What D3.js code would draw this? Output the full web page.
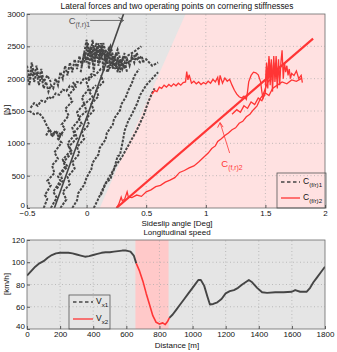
<!DOCTYPE html>
<html>
<head>
<meta charset="utf-8">
<script src="https://cdnjs.cloudflare.com/ajax/libs/d3/7.8.5/d3.min.js"></script>
<style>
body { margin: 0; background: #fff; }
text { font-family: "Liberation Sans", Arial, sans-serif; }
</style>
</head>
<body>
<svg id="chart" width="337" height="352"></svg>
<script>
// ---- top plot data (sideslip angle [deg], lateral force [N]) ----
var sideslipTicks = [-0.5, 0, 0.5, 1, 1.5, 2];
var forceTicks = [0, 500, 1000, 1500, 2000, 2500, 3000];

// operating point regions: gray side ends on this line, pink beyond
var regionEdge = [[0.11, 0], [0.83, 3000]];

// straight cornering stiffness lines
var stiffness1 = [[-0.27, 0], [0.31, 3000]];
var stiffness2 = [[0.25, 0], [1.9, 2620]];

// measured traces, operating point 1 (dashed gray)
var op1Traces = [
  [[-0.5,2050],[-0.48,1900],[-0.46,2150],[-0.44,1950],[-0.42,2100],[-0.40,1900],[-0.38,2050],[-0.36,1850],[-0.34,1950],[-0.32,1800],[-0.30,1900],[-0.28,1850],[-0.26,2000],[-0.24,1900],[-0.22,2100],[-0.20,2000],[-0.18,2200],[-0.16,2050],[-0.14,2250],[-0.12,2100],[-0.10,2300],[-0.08,2150],[-0.06,2350],[-0.04,2200],[-0.02,2400],[0.0,2250],[0.02,2450],[0.04,2300],[0.06,2500],[0.08,2350],[0.10,2550],[0.12,2300],[0.14,2450],[0.16,2250],[0.18,2400],[0.20,2200],[0.22,2350],[0.24,2150],[0.26,2300],[0.28,2100],[0.30,2250],[0.32,2150],[0.34,2300],[0.36,2200],[0.38,2350],[0.40,2250],[0.42,2400],[0.44,2300],[0.46,2350],[0.48,2250]],
  [[-0.5,2200],[-0.48,2000],[-0.46,2250],[-0.44,2050],[-0.42,2200],[-0.40,2000],[-0.38,2150],[-0.36,1950],[-0.33,2050],[-0.30,1950]],
  [[-0.05,2100],[0.0,2600],[0.02,2150],[0.04,2500],[0.06,2100],[0.08,2450],[0.10,2200],[0.12,2550],[0.14,2150],[0.16,2450],[0.18,2100],[0.20,2400],[0.22,2150],[0.24,2350],[0.26,2100],[0.28,2300],[0.30,2150],[0.32,2250],[0.34,2100]],
  [[0.0,2300],[0.03,2450],[0.05,2250],[0.08,2550],[0.11,2350],[0.13,2500],[0.16,2300],[0.19,2500],[0.22,2250],[0.25,2400],[0.28,2200],[0.31,2350],[0.35,2250],[0.40,2350],[0.45,2250],[0.50,2300],[0.55,2200],[0.60,2250]],
  [[-0.02,2250],[0.01,2550],[0.03,2350],[0.05,2600],[0.07,2300],[0.09,2500],[0.11,2250],[0.14,2550],[0.17,2350],[0.20,2500],[0.23,2300],[0.26,2450],[0.29,2250],[0.32,2400]],
  [[-0.47,1550],[-0.44,1620],[-0.41,1580],[-0.38,1660],[-0.35,1640],[-0.32,1720],[-0.29,1690],[-0.26,1770],[-0.23,1750],[-0.20,1830],[-0.17,1810],[-0.14,1890],[-0.11,1870],[-0.08,1950],[-0.05,1930],[-0.02,2010],[0.01,1990],[0.04,2070],[0.07,2050],[0.12,2150],[0.17,2120],[0.22,2220],[0.28,2250],[0.34,2350],[0.40,2420],[0.46,2500]],
  [[-0.36,0],[-0.33,140],[-0.35,200],[-0.30,350],[-0.33,420],[-0.27,540],[-0.29,660],[-0.24,760],[-0.27,860],[-0.21,1010],[-0.24,1070],[-0.18,1230],[-0.21,1290],[-0.15,1430],[-0.18,1530],[-0.12,1650],[-0.15,1750],[-0.09,1870],[-0.12,1960]],
  [[-0.30,0],[-0.25,160],[-0.28,250],[-0.22,420],[-0.24,490],[-0.18,640],[-0.20,750],[-0.13,890],[-0.16,1000],[-0.10,1130],[-0.12,1240],[-0.06,1370],[-0.08,1480],[-0.02,1610],[-0.04,1710],[0.02,1840],[0.0,1940],[0.06,2070]],
  [[-0.25,300],[-0.20,420],[-0.22,520],[-0.16,640],[-0.19,720],[-0.12,860],[-0.15,950],[-0.08,1080],[-0.10,1180],[-0.04,1300],[-0.07,1390],[0.0,1500],[-0.02,1600],[0.05,1720],[0.02,1800],[0.08,1900]],
  [[-0.22,0],[-0.17,130],[-0.20,250],[-0.14,370],[-0.16,480],[-0.10,610],[-0.12,710],[-0.06,840],[-0.08,940],[-0.02,1070],[-0.04,1170],[0.02,1290],[0.0,1390],[0.06,1510],[0.04,1610],[0.10,1730],[0.08,1830],[0.14,1950],[0.12,2050]],
  [[-0.12,0],[-0.08,120],[-0.07,230],[-0.02,360],[0.0,470],[0.04,600],[0.05,700],[0.10,830],[0.11,930],[0.16,1060],[0.17,1160],[0.22,1290],[0.23,1380],[0.28,1510],[0.29,1600],[0.33,1720],[0.35,1820],[0.38,1930],[0.40,2040],[0.44,2150]],
  [[-0.48,1500],[-0.44,1450],[-0.40,1470],[-0.36,1380],[-0.33,1260],[-0.30,1180],[-0.27,1140],[-0.24,1170],[-0.20,1120]],
  [[-0.34,1120],[-0.31,1220],[-0.29,1100],[-0.26,1200],[-0.23,1080],[-0.20,1180]],
  [[0.06,0],[0.09,110],[0.12,230],[0.15,350],[0.18,450],[0.21,540],[0.24,640],[0.27,720],[0.30,800],[0.33,900],[0.36,1000],[0.39,1100],[0.42,1200],[0.45,1320],[0.48,1440],[0.50,1550],[0.52,1650],[0.55,1780],[0.57,1850]],
  [[0.12,200],[0.16,380],[0.20,450],[0.23,600],[0.26,800],[0.28,820],[0.30,1000],[0.32,1200],[0.35,1350],[0.38,1450],[0.42,1600],[0.45,1750],[0.50,1900],[0.55,2000],[0.60,2100]]
];

// measured traces, operating point 2 (solid red)
var op2Traces = [
  [[0.25,0],[0.27,60],[0.29,170],[0.30,110],[0.32,140],[0.34,250],[0.35,170],[0.38,160],[0.42,200],[0.46,180],[0.50,250],[0.54,280],[0.58,330],[0.62,350],[0.66,400],[0.70,430],[0.74,470],[0.78,550],[0.82,580],[0.86,620],[0.90,650],[0.94,710],[0.98,780],[1.02,850],[1.05,920],[1.08,960],[1.10,1030],[1.13,1070],[1.16,1120],[1.19,1160],[1.22,1210],[1.25,1240],[1.28,1310],[1.31,1340],[1.34,1410],[1.37,1450],[1.40,1520],[1.43,1580],[1.46,1700],[1.48,1750],[1.50,1850],[1.52,1950],[1.55,2000]],
  [[0.55,1760],[0.57,1820],[0.59,1800],[0.61,1870],[0.63,1850],[0.65,1900],[0.67,1870],[0.69,1910],[0.71,1880],[0.73,1920],[0.75,1890],[0.77,1930],[0.79,1900],[0.81,1940],[0.83,1950],[0.84,2110],[0.85,1980],[0.86,2060],[0.88,1930],[0.90,1960],[0.92,1920],[0.94,1950],[0.96,1910],[0.98,1940],[1.00,1920],[1.02,1960],[1.04,1930],[1.06,1990],[1.08,1950],[1.10,2020],[1.11,1900],[1.12,2050],[1.14,1930],[1.16,2010],[1.18,1960],[1.20,1990],[1.22,1900],[1.24,1820],[1.26,1760],[1.28,1720],[1.30,1700],[1.32,1730],[1.34,1680],[1.35,1800],[1.36,1950],[1.38,2050],[1.40,2100],[1.42,2090],[1.44,2060],[1.46,1950],[1.47,1800],[1.48,1700],[1.50,1800],[1.51,2200],[1.52,1850],[1.53,2300],[1.54,1900],[1.55,2250],[1.56,1800],[1.57,2350],[1.58,1950],[1.59,2200],[1.60,1850],[1.61,2300],[1.62,1900],[1.63,2250],[1.64,2440],[1.65,2000],[1.66,2250],[1.67,2100],[1.68,2200],[1.69,2050],[1.70,2150],[1.71,2000],[1.72,2080],[1.74,2050],[1.76,2120],[1.78,2000],[1.80,2050],[1.81,1940]],
  [[1.50,1900],[1.51,2250],[1.52,2000],[1.53,2350],[1.54,2050],[1.55,2300],[1.56,1950],[1.57,2250],[1.58,2050],[1.59,2350],[1.60,2000],[1.61,2200],[1.62,2050]],
  [[1.22,1450],[1.26,1520],[1.29,1480],[1.32,1580],[1.35,1540],[1.38,1640],[1.41,1600],[1.44,1700],[1.47,1660],[1.50,1780],[1.53,1740],[1.56,1850],[1.60,1900],[1.64,1950],[1.68,1920],[1.72,1980],[1.76,1960],[1.80,2000]]
];

// ---- bottom plot data (distance [m], speed [km/h]) ----
var distanceTicks = [0, 200, 400, 600, 800, 1000, 1200, 1400, 1600, 1800];
var speedTicks = [40, 60, 80, 100, 120];
var op2Range = [655, 855];
var distance1a = [0,25,50,75,100,125,150,175,200,225,250,275,300,325,350,375,400,425,450,475,500,525,550,575,600,625,645,660];
var speed1a = [88,92,96,99,101,104,106.5,108,108.5,108.5,108.5,108,107,106,105,105.5,106.5,107.5,108.5,109,109,109.5,110,110.5,110.5,109.5,106,99];
var distance2 = [660,680,700,720,740,760,780,800,820,835,850,860];
var speed2 = [99,92,83,72,62,52,46,44.5,45.5,44,47,50];
var distance1b = [860,880,900,925,950,975,1000,1020,1035,1050,1070,1090,1105,1125,1150,1175,1200,1225,1250,1275,1300,1320,1340,1360,1390,1420,1450,1500,1550,1600,1620,1650,1690,1710,1730,1750,1775,1800];
var speed1b = [50,53,57,62,67,72,77,81,84,84,79,69,62,62.5,64,67,72,74,75,77,80,82,84,82,77,73,72.5,73,73,73.5,75,73.5,73.5,77,82,86,91,96];
</script>
<script>
var svg = d3.select("#chart");
var gray = "#e5e5e5", pink = "#ffe1e1", red = "#ff3535", dark = "#454545";

function addGrid(g, x, y, xt, yt) {
  g.selectAll(".gx").data(xt).join("line")
    .attr("x1", d => x(d)).attr("x2", d => x(d))
    .attr("y1", y.range()[0]).attr("y2", y.range()[1])
    .attr("stroke", "#a8a8a8").attr("stroke-width", 0.7).attr("stroke-dasharray", "1,2.5");
  g.selectAll(".gy").data(yt).join("line")
    .attr("y1", d => y(d)).attr("y2", d => y(d))
    .attr("x1", x.range()[0]).attr("x2", x.range()[1])
    .attr("stroke", "#a8a8a8").attr("stroke-width", 0.7).attr("stroke-dasharray", "1,2.5");
}

function addAxes(g, x, y, xt, yt, xfmt, yfmt) {
  var gx = g.append("g").attr("transform", "translate(0," + y.range()[0] + ")")
    .call(d3.axisBottom(x).tickValues(xt).tickSize(-3).tickPadding(2).tickFormat(xfmt));
  var gy = g.append("g").attr("transform", "translate(" + x.range()[0] + ",0)")
    .call(d3.axisLeft(y).tickValues(yt).tickSize(-3).tickPadding(2).tickFormat(yfmt));
  [gx, gy].forEach(function (a) {
    a.select(".domain").remove();
    a.selectAll("line").attr("stroke", "#555");
    a.selectAll("text").attr("font-size", 8).attr("fill", "#111")
      .style("font-family", "'Liberation Sans', Arial, sans-serif");
  });
  // lift the lowest y label a little so it clears the first x label
  gy.selectAll(".tick text").filter(d => d === yt[0]).attr("dy", "-0.05em");
  g.append("rect")
    .attr("x", x.range()[0]).attr("y", y.range()[1])
    .attr("width", x.range()[1] - x.range()[0]).attr("height", y.range()[0] - y.range()[1])
    .attr("fill", "none").attr("stroke", "#6a6a6a").attr("stroke-width", 0.8);
}

function subText(g, x, y, main, sub, color, size) {
  var t = g.append("text").attr("x", x).attr("y", y).attr("fill", color).attr("font-size", size);
  t.append("tspan").text(main);
  t.append("tspan").attr("dy", 3).attr("font-size", size * 0.72).text(sub);
  return t;
}

// ================= top plot =================
var x1 = d3.scaleLinear().domain([-0.5, 2]).range([27, 325]);
var y1 = d3.scaleLinear().domain([0, 3000]).range([208, 14]);
var topG = svg.append("g");

topG.append("clipPath").attr("id", "clipTop").append("rect")
  .attr("x", 27).attr("y", 14).attr("width", 298).attr("height", 194);

var plotTop = topG.append("g").attr("clip-path", "url(#clipTop)");
plotTop.append("rect").attr("x", 27).attr("y", 14).attr("width", 298).attr("height", 194).attr("fill", pink);
plotTop.append("path")
  .attr("d", d3.line()([
    [x1(-0.5), y1(0)], [x1(regionEdge[0][0]), y1(regionEdge[0][1])],
    [x1(regionEdge[1][0]), y1(regionEdge[1][1])], [x1(-0.5), y1(3000)]
  ]) + "Z")
  .attr("fill", gray);

addGrid(plotTop, x1, y1, [0, 0.5, 1, 1.5], [500, 1000, 1500, 2000, 2500]);

var line1 = d3.line().x(d => x1(d[0])).y(d => y1(d[1]));

plotTop.selectAll(".op1").data(op1Traces).join("path")
  .attr("d", line1).attr("fill", "none")
  .attr("stroke", dark).attr("stroke-width", 2).attr("stroke-dasharray", "2.6,1.3");

plotTop.selectAll(".op2").data(op2Traces).join("path")
  .attr("d", line1).attr("fill", "none")
  .attr("stroke", red).attr("stroke-width", 1.3);

plotTop.append("path").attr("d", line1(stiffness1)).attr("fill", "none")
  .attr("stroke", dark).attr("stroke-width", 1.6);
plotTop.append("path").attr("d", line1(stiffness2)).attr("fill", "none")
  .attr("stroke", red).attr("stroke-width", 2.2);

addAxes(topG, x1, y1, sideslipTicks, forceTicks, d3.format(""), d3.format(""));

// annotations
topG.append("line")
  .attr("x1", x1(0.03)).attr("y1", y1(2900)).attr("x2", x1(0.31)).attr("y2", y1(2900))
  .attr("stroke", "#555").attr("stroke-width", 0.8);
topG.append("path")
  .attr("d", "M" + (x1(0.31) - 5) + "," + (y1(2900) - 3) + "L" + x1(0.31) + "," + y1(2900) + "L" + (x1(0.31) - 4) + "," + (y1(2900) + 3))
  .attr("fill", "none").attr("stroke", "#555").attr("stroke-width", 0.9);
subText(topG, x1(-0.15), y1(2840), "C", "(f,r)1", "#555", 9.5);

topG.append("line")
  .attr("x1", x1(1.2)).attr("y1", y1(850)).attr("x2", x1(1.12)).attr("y2", y1(1320))
  .attr("stroke", red).attr("stroke-width", 0.8);
topG.append("path")
  .attr("d", "M" + (x1(1.12) - 2.5) + "," + (y1(1320) + 5) + "L" + x1(1.12) + "," + y1(1320) + "L" + (x1(1.12) + 3) + "," + (y1(1320) + 4.5))
  .attr("fill", "none").attr("stroke", red).attr("stroke-width", 0.9);
subText(topG, x1(1.13), y1(640), "C", "(f,r)2", red, 9.5);

// legend
var lg1 = topG.append("g");
lg1.append("rect").attr("x", 277).attr("y", 173).attr("width", 49).attr("height", 35)
  .attr("fill", "none").attr("stroke", "#555").attr("stroke-width", 0.8);
lg1.append("line").attr("x1", 281).attr("x2", 300).attr("y1", 182).attr("y2", 182)
  .attr("stroke", dark).attr("stroke-width", 1.3).attr("stroke-dasharray", "3.5,2.5");
lg1.append("line").attr("x1", 281).attr("x2", 300).attr("y1", 198).attr("y2", 198)
  .attr("stroke", red).attr("stroke-width", 1.3);
subText(lg1, 303, 184, "C", "(f/r)1", "#111", 8.5);
subText(lg1, 303, 200, "C", "(f/r)2", "#111", 8.5);

topG.append("text").attr("x", 177).attr("y", 9).attr("text-anchor", "middle")
  .attr("font-size", 8.3).attr("fill", "#111")
  .text("Lateral forces and two operating points on cornering stiffnesses");
topG.append("text").attr("x", 177).attr("y", 226).attr("text-anchor", "middle")
  .attr("font-size", 8).attr("fill", "#111").text("Sideslip angle [Deg]");
topG.append("text").attr("transform", "translate(9,110) rotate(-90)").attr("text-anchor", "middle")
  .attr("font-size", 8).attr("fill", "#111").text("[N]");

// ================= bottom plot =================
var x2 = d3.scaleLinear().domain([0, 1800]).range([27, 325]);
var y2 = d3.scaleLinear().domain([40, 120]).range([329, 240]);
var bot = svg.append("g");

bot.append("clipPath").attr("id", "clipBot").append("rect")
  .attr("x", 27).attr("y", 240).attr("width", 298).attr("height", 89);
var plotBot = bot.append("g").attr("clip-path", "url(#clipBot)");
plotBot.append("rect").attr("x", 27).attr("y", 240).attr("width", 298).attr("height", 89).attr("fill", gray);
plotBot.append("rect").attr("x", x2(op2Range[0])).attr("y", 240)
  .attr("width", x2(op2Range[1]) - x2(op2Range[0])).attr("height", 89).attr("fill", "#ffc9c9");

addGrid(plotBot, x2, y2, [200, 400, 600, 800, 1000, 1200, 1400, 1600], [60, 80, 100]);

var line2 = d3.line().x(d => x2(d[0])).y(d => y2(d[1]));
var seg1a = distance1a.map((d, i) => [d, speed1a[i]]);
var seg2 = distance2.map((d, i) => [d, speed2[i]]);
var seg1b = distance1b.map((d, i) => [d, speed1b[i]]);

plotBot.selectAll(".v1").data([seg1a, seg1b]).join("path")
  .attr("d", line2).attr("fill", "none").attr("stroke", dark).attr("stroke-width", 1.9)
  .attr("stroke-linejoin", "round");
plotBot.append("path").attr("d", line2(seg2)).attr("fill", "none")
  .attr("stroke", red).attr("stroke-width", 1.6).attr("stroke-linejoin", "round");

addAxes(bot, x2, y2, distanceTicks, speedTicks, d3.format(""), d3.format(""));

var lg2 = bot.append("g");
lg2.append("rect").attr("x", 69).attr("y", 295).attr("width", 41).attr("height", 34)
  .attr("fill", "none").attr("stroke", "#555").attr("stroke-width", 0.8);
lg2.append("line").attr("x1", 73).attr("x2", 93).attr("y1", 302).attr("y2", 302)
  .attr("stroke", dark).attr("stroke-width", 1.3).attr("stroke-dasharray", "3.5,2.5");
lg2.append("line").attr("x1", 73).attr("x2", 93).attr("y1", 319).attr("y2", 319)
  .attr("stroke", red).attr("stroke-width", 1.3);
subText(lg2, 96, 304, "V", "x1", "#111", 8.5);
subText(lg2, 96, 321, "V", "x2", "#111", 8.5);

bot.append("text").attr("x", 177).attr("y", 235).attr("text-anchor", "middle")
  .attr("font-size", 8).attr("fill", "#111").text("Longitudinal speed");
bot.append("text").attr("x", 177).attr("y", 348).attr("text-anchor", "middle")
  .attr("font-size", 8).attr("fill", "#111").text("Distance [m]");
bot.append("text").attr("transform", "translate(9,284) rotate(-90)").attr("text-anchor", "middle")
  .attr("font-size", 8).attr("fill", "#111").text("[km/h]");
</script>
</body>
</html>
